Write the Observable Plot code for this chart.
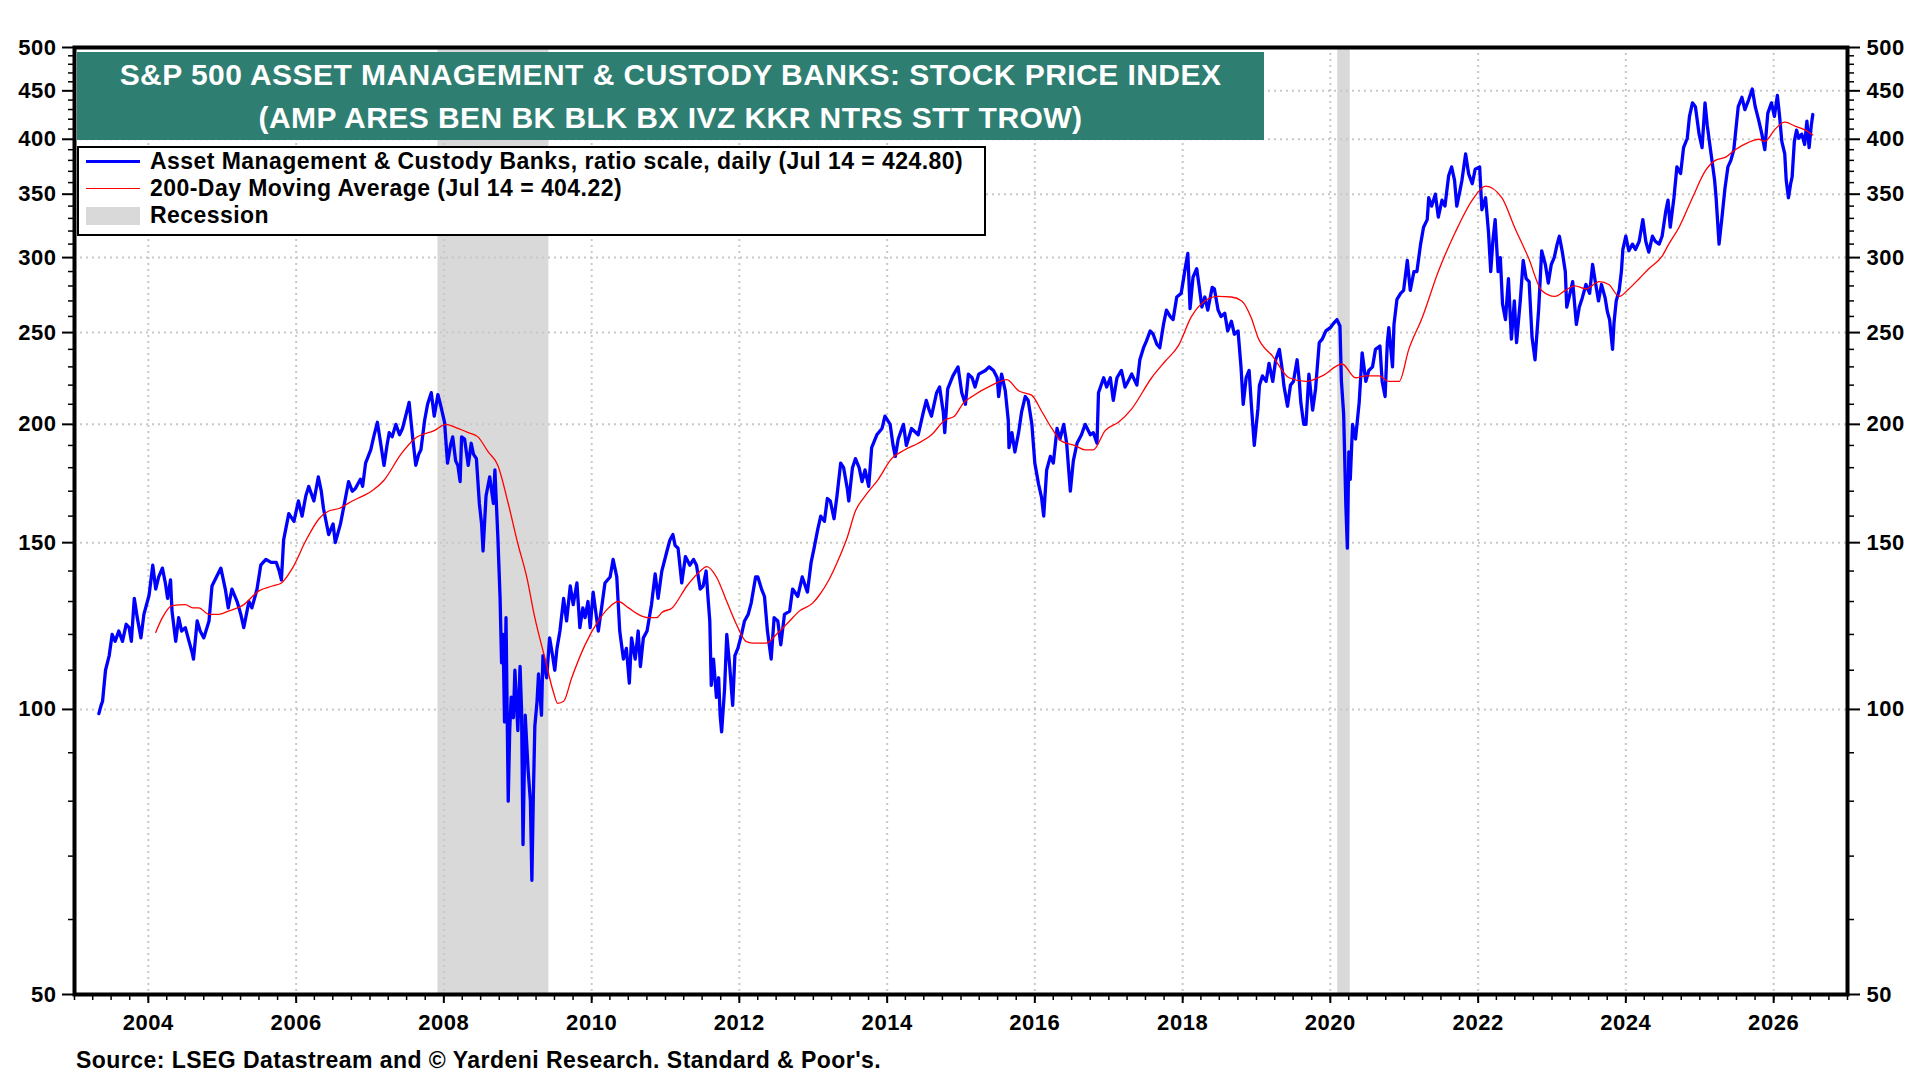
<!DOCTYPE html>
<html>
<head>
<meta charset="utf-8">
<script src="https://cdn.jsdelivr.net/npm/d3@7"></script>
<script src="https://cdn.jsdelivr.net/npm/@observablehq/plot@0.6"></script>
<style>
  html, body { margin: 0; padding: 0; background: #fff; }
  #wrap { position: relative; width: 1920px; height: 1080px; overflow: hidden; font-family: "Liberation Sans", Arial, sans-serif; font-weight: bold; }
  #chart { position: absolute; left: 0; top: 0; }
  #title { position: absolute; left: 77px; top: 52px; width: 1187px; height: 88px; background: #2e7e72; color: #fff;
           font-size: 30px; letter-spacing: 0.45px; line-height: 43px; text-align: center; padding-top: 1px; box-sizing: border-box; white-space: nowrap; }
  #legend { position: absolute; left: 77px; top: 146px; width: 909px; height: 90px; border: 2.5px solid #000; background: #fff;
            box-sizing: border-box; font-size: 23px; letter-spacing: 0.45px; color: #000; }
  .row { display: flex; align-items: center; height: 27px; }
  .sample { width: 54px; margin-left: 7px; margin-right: 10px; display: flex; align-items: center; justify-content: center; height: 27px; }
  .txt { line-height: 27px; white-space: nowrap; }
  #caption { position: absolute; left: 76px; top: 1048px; font-size: 23px; letter-spacing: 0.46px; line-height: 24px; color: #000; white-space: nowrap; }
</style>
</head>
<body>
<div id="wrap">
  <div id="chart"></div>
  <div id="title">S&amp;P 500 ASSET MANAGEMENT &amp; CUSTODY BANKS: STOCK PRICE INDEX<br>(AMP ARES BEN BK BLK BX IVZ KKR NTRS STT TROW)</div>
  <div id="legend"></div>
  <div id="caption">Source: LSEG Datastream and © Yardeni Research. Standard &amp; Poor's.</div>
</div>
<script>
// ---- Data (decimal year, value) ----
const indexPoints = [
[2003.33,99],[2003.36,101],[2003.38,102],[2003.42,110],[2003.47,114],[2003.51,120],[2003.55,118],[2003.60,121],[2003.65,118],[2003.70,123],[2003.74,122],[2003.77,118],[2003.81,131],[2003.85,125],[2003.90,119],[2003.94,126],
[2004.01,132],[2004.06,142],[2004.10,134],[2004.14,138],[2004.19,141],[2004.23,136],[2004.26,131],[2004.30,137],[2004.32,127],[2004.37,118],[2004.41,125],[2004.45,121],[2004.50,122],[2004.55,118],[2004.59,115],[2004.61,113],[2004.66,124],[2004.70,121],[2004.75,119],[2004.82,124],[2004.86,135],[2004.92,138],[2004.98,141],
[2005.04,134],[2005.08,128],[2005.13,134],[2005.20,130],[2005.25,126],[2005.29,122],[2005.36,130],[2005.40,128],[2005.47,134],[2005.52,142],[2005.59,144],[2005.66,143],[2005.73,143],[2005.77,140],[2005.80,137],[2005.83,151],[2005.90,161],[2005.97,158],
[2006.03,166],[2006.08,160],[2006.13,168],[2006.17,172],[2006.24,166],[2006.30,176],[2006.34,170],[2006.37,163],[2006.44,153],[2006.50,157],[2006.53,150],[2006.60,157],[2006.66,166],[2006.71,174],[2006.76,170],[2006.80,171],[2006.87,175],[2006.90,172],[2006.94,182],
[2007.01,188],[2007.05,194],[2007.10,201],[2007.14,192],[2007.19,181],[2007.23,190],[2007.26,196],[2007.30,194],[2007.35,200],[2007.40,195],[2007.44,198],[2007.49,205],[2007.53,211],[2007.56,200],[2007.58,193],[2007.62,181],[2007.66,186],[2007.69,188],[2007.74,202],[2007.78,210],[2007.83,216],[2007.87,204],[2007.92,215],[2007.96,209],
[2008.01,201],[2008.05,182],[2008.09,190],[2008.12,194],[2008.16,183],[2008.19,181],[2008.22,174],[2008.24,194],[2008.28,193],[2008.33,181],[2008.37,191],[2008.40,186],[2008.44,184],[2008.48,165],[2008.51,157],[2008.53,147],[2008.57,168],[2008.62,176],[2008.67,165],[2008.69,179],[2008.73,152],[2008.76,131],[2008.78,112],[2008.80,120],[2008.82,97],[2008.84,125],[2008.87,80],[2008.89,95],[2008.91,103],[2008.94,98],[2008.96,110],
[2009.00,95],[2009.03,111],[2009.05,100],[2009.07,72],[2009.10,98.6],[2009.12,92],[2009.14,86],[2009.17,80],[2009.19,66],[2009.21,81],[2009.23,96],[2009.26,102],[2009.28,109],[2009.32,98.6],[2009.34,114],[2009.39,108],[2009.43,119],[2009.47,114],[2009.50,110],[2009.53,116],[2009.57,121],[2009.62,131],[2009.66,124],[2009.71,135],[2009.75,129],[2009.80,136],[2009.84,122],[2009.88,128],[2009.91,125],[2009.95,130],[2009.98,122],
[2010.02,133],[2010.06,126],[2010.09,121],[2010.14,129],[2010.18,136],[2010.25,138],[2010.29,144],[2010.34,138],[2010.38,121],[2010.43,113],[2010.47,116],[2010.51,106.6],[2010.54,119],[2010.59,113],[2010.63,121],[2010.66,111],[2010.70,119],[2010.75,121],[2010.81,129],[2010.86,139],[2010.90,131],[2010.95,140],
[2011.02,147],[2011.06,151],[2011.10,153],[2011.13,149],[2011.17,148],[2011.22,136],[2011.27,145],[2011.33,142],[2011.38,144],[2011.42,142],[2011.47,134],[2011.51,135],[2011.55,140],[2011.58,130],[2011.60,124],[2011.62,106],[2011.65,113],[2011.69,103],[2011.72,108],[2011.74,98.6],[2011.76,94.7],[2011.80,105],[2011.83,120],[2011.87,111],[2011.91,101],[2011.94,114],[2011.98,116],
[2012.03,120],[2012.07,124],[2012.12,126],[2012.16,129.5],[2012.22,138],[2012.25,138],[2012.30,134],[2012.34,131.6],[2012.38,121],[2012.43,113],[2012.47,125],[2012.52,124],[2012.56,117],[2012.61,126],[2012.68,127],[2012.72,134],[2012.79,131.6],[2012.85,138],[2012.92,133],[2012.97,143],
[2013.01,148],[2013.06,155],[2013.10,160],[2013.15,158],[2013.19,167],[2013.23,166],[2013.28,159],[2013.32,168],[2013.37,182],[2013.41,180],[2013.46,171],[2013.48,166],[2013.53,180],[2013.57,184],[2013.62,180],[2013.66,174],[2013.70,179],[2013.75,172],[2013.79,189],[2013.86,195],[2013.93,198],[2013.97,204],
[2014.04,200],[2014.08,190],[2014.11,185],[2014.15,193],[2014.22,200],[2014.26,190],[2014.33,198],[2014.42,195],[2014.49,206],[2014.53,212],[2014.57,207],[2014.60,204],[2014.67,216],[2014.71,219],[2014.76,206],[2014.78,196],[2014.82,218],[2014.89,225],[2014.96,230],
[2015.01,216],[2015.06,210],[2015.10,226],[2015.15,224],[2015.19,219],[2015.24,226],[2015.33,228],[2015.38,230],[2015.44,228],[2015.49,224],[2015.51,214],[2015.55,226],[2015.60,217],[2015.64,202],[2015.65,189],[2015.69,196],[2015.73,187],[2015.78,196],[2015.82,206],[2015.87,214],[2015.91,212],[2015.96,200],
[2016.00,182],[2016.05,173],[2016.09,167.6],[2016.12,160],[2016.16,179],[2016.21,185],[2016.25,182],[2016.30,198],[2016.34,193],[2016.39,200],[2016.43,191],[2016.48,170],[2016.52,183],[2016.57,191],[2016.63,195],[2016.68,200],[2016.75,195],[2016.79,196],[2016.84,191],[2016.86,216],[2016.93,224],[2016.97,219],
[2017.02,224],[2017.06,212],[2017.11,224],[2017.17,228],[2017.22,219],[2017.26,222],[2017.31,226],[2017.38,220],[2017.42,234],[2017.47,241],[2017.51,245],[2017.56,251],[2017.60,249],[2017.65,243],[2017.69,241],[2017.74,255],[2017.78,264],[2017.83,260],[2017.87,258],[2017.92,272.6],[2017.98,275],
[2018.03,291],[2018.07,303],[2018.10,265],[2018.14,286],[2018.19,292],[2018.22,281],[2018.26,266],[2018.30,272.6],[2018.34,264],[2018.40,279],[2018.43,278],[2018.48,264],[2018.52,260],[2018.57,262],[2018.61,251],[2018.66,257],[2018.70,249],[2018.75,251],[2018.79,230],[2018.82,210],[2018.86,224],[2018.90,228],[2018.93,210],[2018.97,190],
[2019.02,208],[2019.04,220],[2019.08,225],[2019.13,222],[2019.17,232],[2019.22,222],[2019.26,234],[2019.31,240],[2019.35,228],[2019.37,220],[2019.42,209],[2019.46,220],[2019.50,222],[2019.55,234],[2019.58,222],[2019.60,211],[2019.64,200],[2019.67,200],[2019.71,226],[2019.76,207],[2019.80,218],[2019.85,244],[2019.89,246],[2019.94,251],
[2020.00,253],[2020.05,256],[2020.09,258],[2020.13,254],[2020.15,222],[2020.18,205],[2020.21,164],[2020.23,148],[2020.25,187],[2020.27,175],[2020.30,200],[2020.34,193],[2020.39,211],[2020.43,238],[2020.48,222],[2020.52,228],[2020.57,230],[2020.61,240],[2020.67,242],[2020.70,222],[2020.74,214],[2020.77,244],[2020.79,253],[2020.84,230],[2020.86,255],[2020.90,271],[2020.95,275],[2020.99,277],
[2021.04,298],[2021.08,277],[2021.13,290],[2021.17,290],[2021.22,310],[2021.26,323],[2021.31,329],[2021.33,347],[2021.37,340],[2021.42,350],[2021.46,331],[2021.51,345],[2021.55,340],[2021.60,366],[2021.64,374],[2021.68,362],[2021.71,340],[2021.75,352],[2021.78,362],[2021.83,386],[2021.87,368],[2021.92,359],[2021.96,372],
[2022.02,374],[2022.05,337],[2022.10,347],[2022.14,319],[2022.17,290],[2022.20,313],[2022.23,329],[2022.27,290],[2022.30,300],[2022.33,268],[2022.37,258],[2022.41,285],[2022.45,246],[2022.49,270],[2022.52,244],[2022.57,270],[2022.61,298],[2022.65,285],[2022.69,283],[2022.73,247],[2022.77,234],[2022.82,265],[2022.86,305],[2022.91,295],[2022.95,282],[2022.99,295],
[2023.03,300],[2023.07,310],[2023.10,316],[2023.14,304],[2023.18,290],[2023.20,266],[2023.23,272],[2023.28,283],[2023.33,255],[2023.37,266],[2023.41,272],[2023.46,281],[2023.51,275],[2023.55,295],[2023.58,285],[2023.63,270],[2023.67,281],[2023.72,272],[2023.75,263],[2023.78,258],[2023.82,240],[2023.84,256],[2023.87,270],[2023.91,277],[2023.94,290],[2023.96,306],
[2024.00,316],[2024.04,305],[2024.09,310],[2024.13,306],[2024.18,312],[2024.23,329],[2024.27,312],[2024.31,304],[2024.36,316],[2024.40,312],[2024.45,310],[2024.49,316],[2024.54,336],[2024.57,345],[2024.60,323],[2024.65,347],[2024.69,374],[2024.74,368],[2024.78,392],[2024.83,401],[2024.86,423],[2024.90,437],[2024.94,433],[2024.99,405],
[2025.03,392],[2025.07,437],[2025.10,414],[2025.14,392],[2025.17,377],[2025.20,362],[2025.22,347],[2025.26,310],[2025.30,331],[2025.34,355],[2025.38,374],[2025.42,380],[2025.46,390],[2025.49,411],[2025.52,433],[2025.57,443],[2025.61,430],[2025.66,440],[2025.71,452],[2025.75,433],[2025.80,418],[2025.84,405],[2025.88,390],[2025.92,426],[2025.97,437],
[2026.01,423],[2026.05,445],[2026.08,423],[2026.11,398],[2026.15,386],[2026.17,362],[2026.20,347],[2026.23,359],[2026.25,365],[2026.28,398],[2026.31,409],[2026.34,401],[2026.38,405],[2026.42,395],[2026.45,418],[2026.48,392],[2026.51,414],[2026.53,424.8]
];

const maPoints = [
[2004.10,120.6],[2004.19,125],[2004.32,128.7],[2004.50,129],[2004.60,128],[2004.68,128],[2004.82,126],[2004.95,126],[2005.08,127],[2005.27,128.7],[2005.50,133.5],[2005.68,135],[2005.80,136],[2005.95,141],
[2006.13,150.7],[2006.31,159],[2006.44,162],[2006.58,163],[2006.76,166],[2006.90,168],[2007.02,170],[2007.19,174.6],[2007.42,186],[2007.60,193],[2007.87,197],[2008.03,200],[2008.19,198],[2008.33,196],[2008.46,194],[2008.60,187],[2008.73,181],[2008.87,165],
[2009.00,149.6],[2009.12,138],[2009.23,125],[2009.37,113],[2009.48,104.4],[2009.54,101.5],[2009.62,102],[2009.73,108],[2009.91,117],[2010.09,124],[2010.23,128],[2010.36,130],[2010.50,128],[2010.63,126],[2010.77,125],[2010.88,125],[2010.95,126.6],
[2011.09,128],[2011.29,135],[2011.45,139.5],[2011.56,141.5],[2011.69,138],[2011.83,130],[2011.96,123],[2012.09,118],[2012.18,117.5],[2012.36,117.5],[2012.50,120],[2012.68,124],[2012.81,127],[2012.99,129.5],
[2013.08,132],[2013.21,137],[2013.35,144.6],[2013.46,152],[2013.57,162],[2013.70,168],[2013.88,175],[2014.06,184],[2014.24,188],[2014.42,191],[2014.60,195],[2014.78,202],[2014.91,204],
[2015.04,211],[2015.15,214],[2015.42,220],[2015.62,223],[2015.78,217],[2015.96,214.6],[2016.09,206.6],[2016.23,198],[2016.36,192],[2016.54,190],[2016.68,188],[2016.79,188],[2016.95,197],
[2017.13,201],[2017.31,207.7],[2017.58,224],[2017.76,233],[2017.94,242],[2018.12,260],[2018.30,270],[2018.48,273],[2018.66,272.6],[2018.80,270],[2018.93,259],
[2019.02,247],[2019.22,236],[2019.44,224],[2019.67,222],[2019.89,225],[2020.16,231.6],[2020.34,224],[2020.48,225],[2020.66,225],[2020.79,222],[2020.93,222],
[2021.06,240],[2021.24,259],[2021.46,290],[2021.69,319],[2021.92,345],[2022.10,357],[2022.32,347],[2022.50,322],[2022.68,300],[2022.86,277],
[2023.04,273],[2023.18,277],[2023.31,280],[2023.46,278],[2023.64,283],[2023.77,281],[2023.91,273],[2024.04,278],[2024.18,285],[2024.31,292],[2024.49,301],[2024.58,310],[2024.72,323],[2024.90,347],
[2025.08,371],[2025.21,380],[2025.35,383],[2025.48,390],[2025.66,397],[2025.80,400],[2025.88,398],[2026.02,410],[2026.15,417],[2026.29,413],[2026.43,409],[2026.53,404.22]
];

const recessionStart = [2007.92, 2020.10];
const recessionEnd   = [2009.42, 2020.27];

const yTicks = [50, 100, 150, 200, 250, 300, 350, 400, 450, 500];
const xTickYears = [2004, 2006, 2008, 2010, 2012, 2014, 2016, 2018, 2020, 2022, 2024, 2026];
const xDomainYears = [2003, 2027];

const legendItems = [
  {label: "Asset Management & Custody Banks, ratio scale, daily (Jul 14 = 424.80)", kind: "line", color: "#0000ff", width: 3},
  {label: "200-Day Moving Average (Jul 14 = 404.22)", kind: "line", color: "#ff0000", width: 1.5},
  {label: "Recession", kind: "rect", color: "#d9d9d9"}
];

// ---- helpers ----
function yd(t) {
  const y = Math.floor(t);
  const s = Date.UTC(y, 0, 1), e = Date.UTC(y + 1, 0, 1);
  return new Date(s + (t - y) * (e - s));
}
const recessions = recessionStart.map((s, i) => ({start: yd(s), end: yd(recessionEnd[i])}));
const xTickDates = xTickYears.map(y => yd(y));
const quarterDates = d3.utcMonth.every(3).range(yd(xDomainYears[0]), yd(xDomainYears[1] + 0.001));
const yMinor = d3.range(60, 500, 10).filter(v => !yTicks.includes(v));

const axisText = {fontSize: 22, fontWeight: "bold"};

const chart = Plot.plot({
  width: 1920,
  height: 1040,
  marginLeft: 74,
  marginRight: 73,
  marginTop: 47,
  marginBottom: 46,
  style: {fontFamily: "'Liberation Sans', Arial, sans-serif", fontWeight: "bold", fontSize: "22px", letterSpacing: "0.55px", background: "#fff", color: "#000"},
  x: {type: "utc", domain: xDomainYears.map(yd)},
  y: {type: "log", domain: [50, 500]},
  marks: [
    Plot.rect(recessions, {x1: "start", x2: "end", y1: 50, y2: 500, fill: "#d9d9d9"}),
    Plot.ruleY(yTicks.slice(1, -1), {stroke: "#c8c8c8", strokeWidth: 2, strokeDasharray: "2,4"}),
    Plot.ruleX(xTickDates, {stroke: "#c8c8c8", strokeWidth: 2, strokeDasharray: "2,4"}),
    Plot.line(indexPoints, {x: d => yd(d[0]), y: d => d[1], stroke: "#0000ff", strokeWidth: 3.3, strokeLinejoin: "round"}),
    Plot.line(maPoints, {x: d => yd(d[0]), y: d => d[1], stroke: "#ff0000", strokeWidth: 1.3, curve: "monotone-x"}),
    Plot.frame({stroke: "#000", strokeWidth: 4}),
    Plot.axisY(yTicks, {anchor: "left", tickSize: 12, tickPadding: 6, strokeWidth: 2, tickFormat: d => String(d), label: null, ...axisText}),
    Plot.axisY(yMinor, {anchor: "left", tickSize: 6, strokeWidth: 1.5, tickFormat: () => "", label: null}),
    Plot.axisY(yTicks, {anchor: "right", tickSize: 12, tickPadding: 7, strokeWidth: 2, tickFormat: d => String(d), label: null, ...axisText}),
    Plot.axisY(yMinor, {anchor: "right", tickSize: 6, strokeWidth: 1.5, tickFormat: () => "", label: null}),
    Plot.axisX(xTickDates, {anchor: "bottom", tickSize: 9, tickPadding: 11, strokeWidth: 2, tickFormat: d => String(d.getUTCFullYear()), label: null, ...axisText}),
    Plot.axisX(quarterDates, {anchor: "bottom", tickSize: 6, strokeWidth: 1.5, tickFormat: () => "", label: null})
  ]
});
document.getElementById("chart").appendChild(chart);

// ---- legend ----
const leg = document.getElementById("legend");
for (const it of legendItems) {
  const row = document.createElement("div");
  row.className = "row";
  const s = document.createElement("div");
  s.className = "sample";
  const sw = document.createElement("div");
  sw.style.width = "54px";
  sw.style.height = (it.kind === "line" ? it.width : 18) + "px";
  sw.style.background = it.color;
  s.appendChild(sw);
  const t = document.createElement("div");
  t.className = "txt";
  t.textContent = it.label;
  row.appendChild(s); row.appendChild(t);
  leg.appendChild(row);
}
</script>
</body>
</html>
